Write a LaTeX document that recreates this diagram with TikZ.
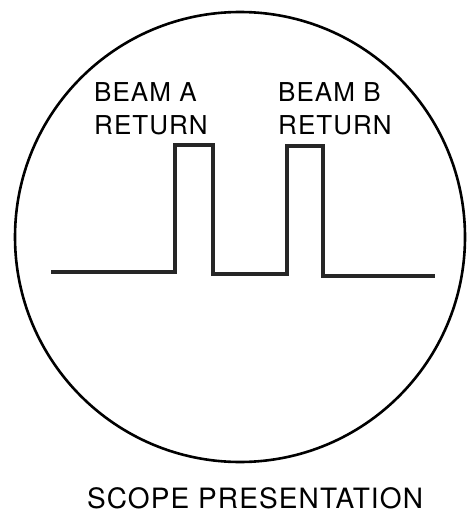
\documentclass[tikz,border=0pt]{standalone}
\usepackage{fontspec}
\setmainfont{TeX Gyre Heros}
\newfontfamily\scopefont[LetterSpace=4]{TeX Gyre Heros}
\usepackage{tikz}

\tikzset{
  beamlabel/.style={align=left, inner sep=0pt, anchor=north west, font=\scopefont\fontsize{26}{33}\selectfont},
  trace/.style={line width=3.2pt, black!85, line join=miter}
}

\begin{document}
\begin{tikzpicture}[x=1pt, y=-1pt]
  \useasboundingbox (0,0) rectangle (466,513);
  % 画面
  \draw[line width=2.6pt] (240,237) circle (225);
  % 波形
  \draw[trace] (51,272) -- (175,272) -- (175,145) -- (213,145) -- (213,274)
    -- (287,274) -- (287,146) -- (323,146) -- (323,276) -- (435,276);
  % ラベル
  \node[beamlabel] (beamA) at (94,82) {BEAM\ A\\RETURN};
  \node[beamlabel] (beamB) at (278,82) {BEAM B\\RETURN};
  \node[inner sep=0pt, anchor=base, font=\scopefont\fontsize{28}{34}\selectfont] (title) at (255,508) {SCOPE PRESENTATION};
\end{tikzpicture}
\end{document}
